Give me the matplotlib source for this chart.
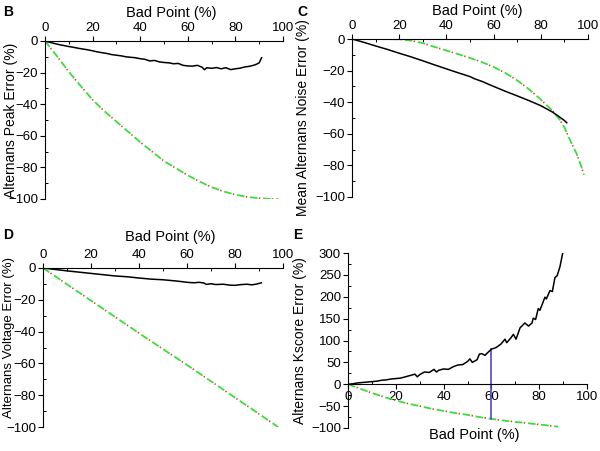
import matplotlib

matplotlib.use("Agg")
import matplotlib.pyplot as plt
from matplotlib.ticker import MultipleLocator

plt.rcParams["font.family"] = ["Liberation Sans", "DejaVu Sans"]
plt.rcParams["lines.scale_dashes"] = False

# panel B: alternans peak error
b_x = [0, 2, 4, 6, 8, 10, 12, 14, 16, 18, 20, 22, 24, 26, 28, 30, 32, 34, 36, 38, 40,
       42, 44, 46, 48, 50, 52, 54, 56, 58, 60, 62, 64, 66, 67, 68, 70, 72, 74, 76, 78,
       80, 82, 84, 86, 88, 89, 90, 91]
b_y = [0, -0.8, -1.6, -2.3, -2.9, -3.5, -4.0, -4.6, -5.1, -5.6, -6.2, -6.9, -7.4, -7.9,
       -8.6, -9.0, -9.4, -10.0, -10.3, -10.6, -11.2, -11.6, -12.6, -12.3, -13.2, -13.6,
       -13.8, -14.4, -14.2, -15.4, -15.8, -15.9, -15.4, -16.6, -18.2, -16.9, -17.3, -16.8,
       -17.6, -16.9, -18.1, -17.6, -17.2, -16.4, -16.0, -15.2, -14.6, -13.8, -10.6]
b_gx = [0, 5, 10, 15, 20, 25, 30, 35, 40, 45, 50, 55, 60, 65, 70, 75, 80, 85, 90, 95, 98]
b_gy = [0, -9.5, -19.5, -28.5, -37.2, -44.5, -51, -57.5, -64, -70, -76, -80.5, -85, -89,
        -92.5, -95.2, -97.3, -98.7, -99.5, -100, -100]

# panel C: mean alternans noise error
c_x = [0, 5, 10, 15, 20, 25, 30, 35, 40, 45, 50, 52, 55, 60, 65, 70, 75, 80, 85, 88,
       90, 91]
c_y = [0, -2.1, -4.4, -6.6, -9.0, -11.3, -13.8, -16.4, -18.9, -21.4, -23.8, -25.2,
       -26.8, -30.0, -33.1, -36.0, -39.0, -42.2, -46.3, -49.4, -51.6, -53.0]
c_gx = [0, 10, 20, 25, 30, 35, 40, 45, 50, 55, 60, 65, 70, 75, 80, 85, 88, 90, 93, 95,
        97, 98.3]
c_gy = [0, 0, -0.2, -1, -2.6, -5, -7.3, -9.6, -12, -14.6, -17.7, -21.5, -26.2, -31.8,
        -38.3, -45.5, -51, -56, -66, -72, -80, -86]

# panel D: alternans voltage error
d_x = [0, 5, 10, 15, 20, 25, 30, 35, 40, 45, 50, 55, 58, 60, 63, 65, 67, 68, 70, 72, 75,
       78, 80, 82, 85, 87, 89, 91]
d_y = [0, -0.9, -1.8, -2.6, -3.4, -4.2, -5.0, -5.5, -6.3, -7.0, -7.4, -8.1, -8.6, -9.0,
       -9.3, -9.0, -9.4, -10.3, -9.9, -10.4, -10.2, -10.8, -10.9, -10.5, -10.2, -10.6,
       -10.1, -9.3]
d_gx = [0, 20, 40, 60, 80, 98]
d_gy = [0, -20.5, -41, -61, -81.5, -100]

# panel E: alternans Kscore error
e_x = [0, 2, 4, 6, 8, 10, 12, 14, 16, 18, 20, 22, 24, 26, 28, 29, 30, 32, 34, 36, 37, 38,
       40, 42, 44, 46, 48, 50, 51, 52, 54, 55, 56, 57.3, 58, 60, 62, 64, 65.7, 66.4, 68,
       69.2, 70.3, 72, 74, 75.5, 77, 77.5, 78.5, 79.6, 80.3, 82.4, 83, 84.5, 85.5, 86.6,
       87.5, 88.7, 89.8]
e_y = [0, 1, 3, 4, 5, 6, 7, 9, 10, 12, 13, 14, 17, 20, 23, 17, 22, 28, 27, 34, 28, 32,
       35, 34, 40, 44, 45, 52, 58, 50, 56, 69, 70, 66, 70, 80, 84, 92, 103, 95, 105,
       114, 103, 129, 140, 133, 140, 151, 148, 173, 169, 199, 195, 214, 212, 244,
       248, 269, 299]
e_gx = [0, 5, 10, 15, 20, 25, 30, 35, 40, 45, 50, 55, 60, 65, 70, 75, 80, 85, 88]
e_gy = [0, -10, -20, -29, -37, -44, -50, -56, -61, -66, -70, -75, -79, -83, -86, -89,
        -92, -95, -97]
blue_x = 60
blue_y = [-79, 80]

GREEN = "#3ddc3d"
RED = "#e03a2a"
W, H = 600, 451


def px_axes(fig, left, top, right, bottom):
    return fig.add_axes([left / W, 1 - bottom / H, (right - left) / W, (bottom - top) / H])


def dashdot(ax, x, y):
    # green dashes with small red dots in the gaps
    ax.plot(x, y, color=GREEN, lw=1.3, linestyle=(0, (5.5, 4)), zorder=2)
    ax.plot(x, y, color=RED, lw=1.2, linestyle=(-6.5, (1, 8.5)), zorder=2)


def style_ticks(ax):
    ax.tick_params(which="major", direction="out", length=3.5, width=0.8,
                   labelsize=9.5, pad=1.5)
    ax.tick_params(which="minor", direction="in", length=2.5, width=0.7)


def top_panel(ax, ylabel, ylab_x, ylab_y, xlab_y, ylab_size=10):
    ax.set_xlim(0, 100)
    ax.set_ylim(-100, 0)
    ax.spines["right"].set_visible(False)
    ax.spines["bottom"].set_visible(False)
    ax.xaxis.tick_top()
    ax.xaxis.set_label_position("top")
    ax.xaxis.set_major_locator(MultipleLocator(20))
    ax.xaxis.set_minor_locator(MultipleLocator(10))
    ax.yaxis.set_major_locator(MultipleLocator(20))
    ax.yaxis.set_minor_locator(MultipleLocator(10))
    style_ticks(ax)
    ax.set_xlabel("Bad Point (%)", fontsize=10.5)
    ax.xaxis.set_label_coords(0.53, xlab_y)
    ax.set_ylabel(ylabel, fontsize=ylab_size)
    ax.yaxis.set_label_coords(ylab_x, ylab_y)


fig = plt.figure(figsize=(6, 4.51), dpi=100)

ax_b = px_axes(fig, 45, 41, 283, 199)
ax_b.plot(b_x, b_y, color="black", lw=1.1, zorder=3)
dashdot(ax_b, b_gx, b_gy)
top_panel(ax_b, "Alternans Peak Error (%)", -0.115, 0.5, 1.15)

ax_c = px_axes(fig, 352, 39, 588, 197)
ax_c.plot(c_x, c_y, color="black", lw=1.1, zorder=3)
dashdot(ax_c, c_gx, c_gy)
top_panel(ax_c, "Mean Alternans Noise Error (%)", -0.18, 0.5, 1.15)

ax_d = px_axes(fig, 43, 268, 283, 427)
ax_d.plot(d_x, d_y, color="black", lw=1.1, zorder=3)
dashdot(ax_d, d_gx, d_gy)
top_panel(ax_d, "Alternans Voltage Error (%)", -0.118, 0.56, 1.17, ylab_size=9.5)

ax_e = px_axes(fig, 348, 253, 587, 428)
ax_e.plot(e_x, e_y, color="black", lw=1.1, zorder=3)
dashdot(ax_e, e_gx, e_gy)
ax_e.plot([blue_x, blue_x], blue_y, color="#4a4ad0", lw=1.2, zorder=2)
ax_e.set_xlim(0, 100)
ax_e.set_ylim(-100, 300)
ax_e.spines["right"].set_visible(False)
ax_e.spines["top"].set_visible(False)
ax_e.spines["bottom"].set_position(("data", 0))
ax_e.xaxis.set_major_locator(MultipleLocator(20))
ax_e.xaxis.set_minor_locator(MultipleLocator(10))
ax_e.yaxis.set_major_locator(MultipleLocator(50))
ax_e.yaxis.set_minor_locator(MultipleLocator(25))
style_ticks(ax_e)
ax_e.set_xlabel("Bad Point (%)", fontsize=10.5)
ax_e.xaxis.set_label_coords(0.53, 0.0)
ax_e.set_ylabel("Alternans Kscore Error (%)", fontsize=10)
ax_e.yaxis.set_label_coords(-0.17, 0.5)

for letter, x, y in (("B", 3, 5), ("C", 297, 5), ("D", 3, 228), ("E", 293, 228)):
    fig.text(x / W, 1 - y / H, letter, fontsize=10, fontweight="bold", va="top", ha="left")

fig.savefig("out.png", dpi=100)
